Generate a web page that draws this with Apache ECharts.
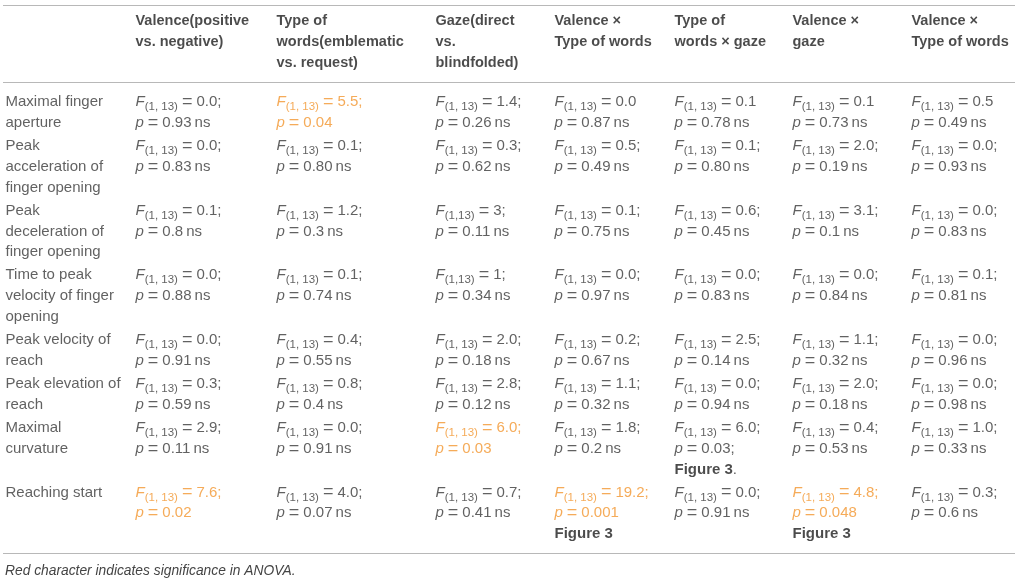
<!DOCTYPE html>
<html><head><meta charset="utf-8">
<script src="https://cdn.jsdelivr.net/npm/echarts@6.0.0/dist/echarts.min.js"></script>
<style>html,body{margin:0;padding:0;background:#fff;}#c{width:1018px;height:582px;}</style>
</head><body><div id="c"></div>
<script>
// ---------- DATA ----------
const headers = [
  [],
  ["Valence(positive", "vs. negative)"],
  ["Type of", "words(emblematic", "vs. request)"],
  ["Gaze(direct", "vs.", "blindfolded)"],
  ["Valence \u00d7", "Type of words"],
  ["Type of", "words \u00d7 gaze"],
  ["Valence \u00d7", "gaze"],
  ["Valence \u00d7", "Type of words"]
];
const rowLabels = [
  ["Maximal finger", "aperture"],
  ["Peak", "acceleration of", "finger opening"],
  ["Peak", "deceleration of", "finger opening"],
  ["Time to peak", "velocity of finger", "opening"],
  ["Peak velocity of", "reach"],
  ["Peak elevation of", "reach"],
  ["Maximal", "curvature"],
  ["Reaching start"]
];
const fValence      = ["0.0;", "0.0;", "0.1;", "0.0;", "0.0;", "0.3;", "2.9;", "7.6;"];
const pValence      = ["0.93 ns", "0.83 ns", "0.8 ns", "0.88 ns", "0.91 ns", "0.59 ns", "0.11 ns", "0.02"];
const fWords        = ["5.5;", "0.1;", "1.2;", "0.1;", "0.4;", "0.8;", "0.0;", "4.0;"];
const pWords        = ["0.04", "0.80 ns", "0.3 ns", "0.74 ns", "0.55 ns", "0.4 ns", "0.91 ns", "0.07 ns"];
const fGaze         = ["1.4;", "0.3;", "3;", "1;", "2.0;", "2.8;", "6.0;", "0.7;"];
const pGaze         = ["0.26 ns", "0.62 ns", "0.11 ns", "0.34 ns", "0.18 ns", "0.12 ns", "0.03", "0.41 ns"];
const fValWords     = ["0.0", "0.5;", "0.1;", "0.0;", "0.2;", "1.1;", "1.8;", "19.2;"];
const pValWords     = ["0.87 ns", "0.49 ns", "0.75 ns", "0.97 ns", "0.67 ns", "0.32 ns", "0.2 ns", "0.001"];
const fWordsGaze    = ["0.1", "0.1;", "0.6;", "0.0;", "2.5;", "0.0;", "6.0;", "0.0;"];
const pWordsGaze    = ["0.78 ns", "0.80 ns", "0.45 ns", "0.83 ns", "0.14 ns", "0.94 ns", "0.03;", "0.91 ns"];
const fValGaze      = ["0.1", "2.0;", "3.1;", "0.0;", "1.1;", "2.0;", "0.4;", "4.8;"];
const pValGaze      = ["0.73 ns", "0.19 ns", "0.1 ns", "0.84 ns", "0.32 ns", "0.18 ns", "0.53 ns", "0.048"];
const fValWords2    = ["0.5", "0.0;", "0.0;", "0.1;", "0.0;", "0.0;", "1.0;", "0.3;"];
const pValWords2    = ["0.49 ns", "0.93 ns", "0.83 ns", "0.81 ns", "0.96 ns", "0.98 ns", "0.33 ns", "0.6 ns"];
const fColumns = [fValence, fWords, fGaze, fValWords, fWordsGaze, fValGaze, fValWords2];
const pColumns = [pValence, pWords, pGaze, pValWords, pWordsGaze, pValGaze, pValWords2];
const dfLabel = "(1, 13)";
const dfLabelCompact = "(1,13)";
const compactDfCells = [[2, 3], [3, 3]];            // [row, column]
const significantCells = [[0, 2], [6, 3], [7, 1], [7, 4], [7, 6]];
const figureNotes = [[6, 5, "Figure 3", "."], [7, 4, "Figure 3", ""], [7, 6, "Figure 3", ""]];
const footnote = "Red character indicates significance in ANOVA.";

// ---------- LAYOUT ----------
const FONT = "'Liberation Sans', Arial, Helvetica, sans-serif";
const colX = [5, 135, 276, 435, 554, 674, 792, 911];
const headerY0 = 21, headerLineH = 21;
const bodyY0 = 102, lineH = 20.8, rowGap = 2.3;
const ruleYs = [5, 82, 553];
const ruleX0 = 3, ruleX1 = 1015;
const TEXT = '#3a3a3a', ORANGE = '#F2962F';

const has = (list, r, c) => list.some(e => e[0] === r && e[1] === c);
const points = [];
// headers
headers.forEach((lines, c) => lines.forEach((ln, i) => {
  points.push({ value: [colX[c], headerY0 + i * headerLineH], text: '{h|' + ln + '}' });
}));
// rows
let y = bodyY0;
rowLabels.forEach((lines, r) => {
  let nLines = Math.max(lines.length, 2 + (figureNotes.some(n => n[0] === r) ? 1 : 0));
  lines.forEach((ln, i) => points.push({ value: [colX[0], y + i * lineH], text: '{t|' + ln + '}' }));
  for (let c = 1; c <= 7; c++) {
    const s = has(significantCells, r, c) ? 'o' : '';
    const df = has(compactDfCells, r, c) ? dfLabelCompact : dfLabel;
    const f = fColumns[c - 1][r];
    const p = pColumns[c - 1][r].replace(' ns', '\u2009ns');
    points.push({ value: [colX[c], y], text: `{fi${s}|F}{sub${s}|${df}}{eq${s}|=}{n${s}|${f}}` });
    points.push({ value: [colX[c], y + lineH], text: `{fi${s}|p}{eq${s}|=}{n${s}|${p}}` });
  }
  figureNotes.filter(n => n[0] === r).forEach(n => {
    points.push({ value: [colX[n[1]], y + 2 * lineH], text: '{b|' + n[2] + '}' + (n[3] ? '{n|' + n[3] + '}' : '') });
  });
  y += nLines * lineH + rowGap;
});

const base = { fontFamily: FONT, fontSize: 15, color: TEXT, lineHeight: 22 };
const mk = (extra) => Object.assign({}, base, extra);
const rich = {
  t: mk({}),
  h: mk({ fontSize: 14.5, fontWeight: 'bold', color: '#1e1e1e' }),
  b: mk({ fontWeight: 'bold', color: '#1e1e1e' }),
  fi: mk({ fontStyle: 'italic' }),
  sub: mk({ fontSize: 11.5, lineHeight: 10, verticalAlign: 'bottom' }),
  eq: mk({ fontSize: 18, padding: [0, 4, 0, 4] }),
  n: mk({}),
  fio: mk({ fontStyle: 'italic', color: ORANGE }),
  subo: mk({ fontSize: 11.5, lineHeight: 10, verticalAlign: 'bottom', color: ORANGE }),
  eqo: mk({ fontSize: 18, padding: [0, 4, 0, 4], color: ORANGE }),
  no: mk({ color: ORANGE })
};

const chart = echarts.init(document.getElementById('c'), null, { renderer: 'canvas' });
chart.setOption({
  animation: false,
  backgroundColor: '#fff',
  title: {
    text: footnote, left: 0, top: 559,
    textStyle: { fontFamily: FONT, fontStyle: 'italic', fontWeight: 'normal', fontSize: 13.8, color: '#444' }
  },
  grid: { left: 0, right: 0, top: 0, bottom: 0 },
  xAxis: { type: 'value', min: 0, max: 1018, show: false },
  yAxis: { type: 'value', min: 0, max: 582, inverse: true, show: false },
  series: [{
    type: 'scatter', symbol: 'circle', symbolSize: 1, silent: true,
    itemStyle: { color: 'rgba(0,0,0,0)' },
    data: points,
    label: { show: true, position: 'right', distance: 0, formatter: p => p.data.text, rich: rich, fontFamily: FONT },
    labelLayout: { hideOverlap: false },
    markLine: {
      symbol: 'none', silent: true, animation: false,
      label: { show: false },
      lineStyle: { color: '#b8b8b8', width: 1.2, type: 'solid' },
      data: ruleYs.map(ry => [{ coord: [ruleX0, ry] }, { coord: [ruleX1, ry] }])
    }
  }]
});
</script></body></html>
